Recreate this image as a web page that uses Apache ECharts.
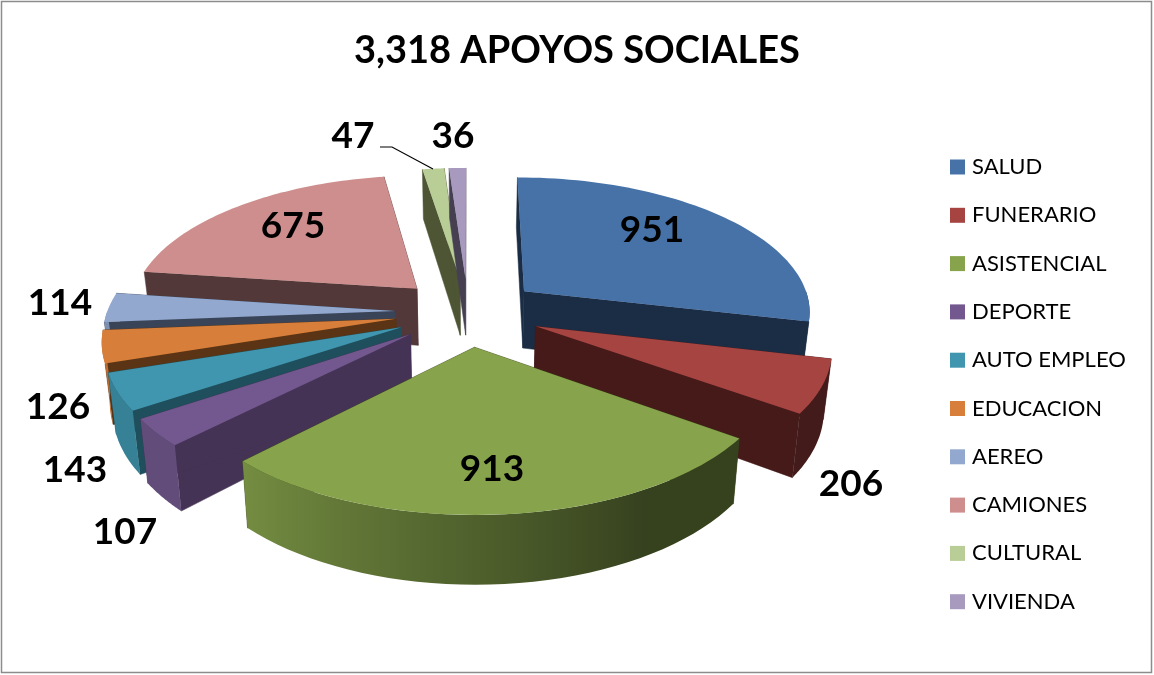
<!DOCTYPE html>
<html>
<head>
<meta charset="utf-8">
<style>
  html, body { margin: 0; padding: 0; background: #fff; }
  #chart { width: 1154px; height: 675px; }
</style>
</head>
<body>
<div id="chart"></div>
<script src="https://cdn.jsdelivr.net/npm/echarts@6/dist/echarts.min.js"></script>
<script>
const categories = ['SALUD', 'FUNERARIO', 'ASISTENCIAL', 'DEPORTE', 'AUTO EMPLEO', 'EDUCACION', 'AEREO', 'CAMIONES', 'CULTURAL', 'VIVIENDA'];
const values = [951, 206, 913, 107, 143, 126, 114, 675, 47, 36];
const topColors = ['#4672A8', '#A64441', '#87A44C', '#72588E', '#4096AF', '#D77F3A', '#92A8CF', '#CE8E8D', '#B9CD96', '#A79ABE'];
const wallColors = ['#1B2D45', '#451A19', '#374119', '#443355', '#1F4F5C', '#5A3414', '#3A4458', '#523838', '#4D5535', '#463F52'];
// back to front
const drawOrder = [8, 9, 0, 7, 6, 5, 4, 3, 1, 2];
// where the value labels sit, same order as categories
const labelPos = [[652, 230], [851, 484], [492, 469], [125, 532], [75, 470], [58, 407], [60, 303], [293, 226], [353, 136], [453, 136]];
const leaderLine = [[380, 147], [392, 147], [433, 169]];

// pie geometry: radius, explosion, tilt, perspective
const cx = 468, cy = 312, R = 288, explode = 73, K = 0.467, T = 0.000471, H = 58, wallShrink = 0.978;
const total = values.reduce((a, b) => a + b, 0);

function project(X, Y, bottom) {
  const p = 1 / (1 - T * Y);
  let x = cx + X * p;
  let y = cy + Y * K * p;
  if (bottom) {
    x = cx + (x - cx) * wallShrink;
    y += H * p;
  }
  return [x, y];
}

function shade(hex, f) {
  const n = parseInt(hex.slice(1), 16);
  const c = [(n >> 16) & 255, (n >> 8) & 255, n & 255].map(v => Math.round(v * f));
  return 'rgb(' + c.join(',') + ')';
}

function arcShade(deg) {
  return Math.max(0.4, Math.min(0.86, 0.4 + (deg - 150) * 0.0062));
}

function sliceShapes(i) {
  let before = 0;
  for (let j = 0; j < i; j++) before += values[j];
  const a0 = before / total * 360;
  const a1 = (before + values[i]) / total * 360;
  const mid = (a0 + a1) / 2 * Math.PI / 180;
  const ox = Math.sin(mid) * explode;
  const oy = -Math.cos(mid) * explode;
  const rim = (deg) => {
    const t = deg * Math.PI / 180;
    return [ox + Math.sin(t) * R, oy - Math.cos(t) * R];
  };
  const pt = (w, bottom) => project(w[0], w[1], bottom);
  const apex = [ox, oy];
  const children = [];
  const wallStyle = { fill: wallColors[i], stroke: wallColors[i], lineWidth: 0.5 };

  // radial walls
  [a0, a1].forEach((deg) => {
    const e = rim(deg);
    children.push({
      type: 'polygon',
      shape: { points: [pt(apex, false), pt(e, false), pt(e, true), pt(apex, true)] },
      style: wallStyle
    });
  });

  // curved wall, only the part turned to the viewer
  const from = Math.max(a0, 90), to = Math.min(a1, 270);
  if (to > from) {
    const upper = [], lower = [], stops = [];
    const steps = 40;
    for (let s = 0; s <= steps; s++) {
      const deg = from + (to - from) * s / steps;
      upper.push(pt(rim(deg), false));
      lower.unshift(pt(rim(deg), true));
    }
    const xa = upper[0][0], xb = upper[steps][0];
    for (let s = 0; s <= steps; s++) {
      const deg = from + (to - from) * s / steps;
      const off = (upper[s][0] - xa) / ((xb - xa) || 1);
      stops.push({ offset: Math.max(0, Math.min(1, off)), color: shade(topColors[i], arcShade(deg)) });
    }
    children.push({
      type: 'polygon',
      shape: { points: upper.concat(lower) },
      style: { fill: new echarts.graphic.LinearGradient(xa, 0, xb, 0, stops, true) }
    });
  }

  // top face
  const topPts = [pt(apex, false)];
  for (let s = 0; s <= 60; s++) {
    topPts.push(pt(rim(a0 + (a1 - a0) * s / 60), false));
  }
  children.push({
    type: 'polygon',
    shape: { points: topPts },
    style: { fill: topColors[i] }
  });

  return children;
}

const series = drawOrder.map((i, order) => ({
  name: categories[i],
  type: 'custom',
  coordinateSystem: 'none',
  z: 2 + order,
  itemStyle: { color: topColors[i] },
  data: [values[i]],
  silent: true,
  renderItem: function (params, api) {
    return { type: 'group', children: sliceShapes(i) };
  }
}));

const chart = echarts.init(document.getElementById('chart'));
chart.setOption({
  animation: false,
  backgroundColor: '#fff',
  title: {
    text: '3,318 APOYOS SOCIALES',
    left: 'center',
    top: 27,
    textStyle: { fontFamily: 'Lato', fontSize: 38, fontWeight: 'bold', color: '#000' }
  },
  legend: {
    data: categories,
    orient: 'vertical',
    left: 945,
    top: 149,
    itemWidth: 15,
    itemHeight: 15,
    itemGap: 22.3,
    icon: 'rect',
    selectedMode: false,
    textStyle: { fontFamily: 'Lato', fontSize: 22, color: '#000', padding: [0, 0, 0, 2], lineHeight: 26 }
  },
  graphic: [
    {
      type: 'rect',
      shape: { x: 1.5, y: 1.5, width: 1150, height: 671 },
      style: { fill: 'none', stroke: '#8c8c8c', lineWidth: 1.5 },
      z: 1
    },
    {
      type: 'polyline',
      shape: { points: leaderLine },
      style: { fill: 'none', stroke: '#000', lineWidth: 1.2 },
      z: 50
    }
  ].concat(values.map((v, i) => ({
    type: 'text',
    x: labelPos[i][0],
    y: labelPos[i][1],
    style: {
      text: String(v),
      fontFamily: 'Lato',
      fontSize: 37,
      fontWeight: 'bold',
      fill: '#000',
      align: 'center',
      verticalAlign: 'middle'
    },
    z: 50
  }))),
  series: series
});
</script>
</body>
</html>
